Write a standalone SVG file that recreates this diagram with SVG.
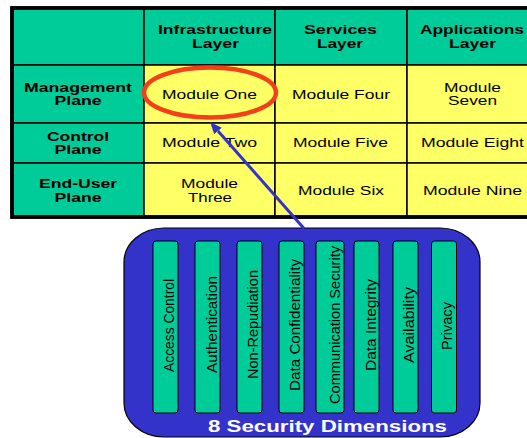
<svg xmlns="http://www.w3.org/2000/svg" width="527" height="438" viewBox="0 0 527 438">
<style>
.teal{fill:#00CC99;stroke:#000;stroke-width:1.5}
.yel{fill:#FFFF66;stroke:#000;stroke-width:1.5}
.hd{font-family:"Liberation Sans",Arial,sans-serif;font-weight:bold;font-size:12px;fill:#000;text-anchor:middle}
.bd{font-family:"Liberation Sans",Arial,sans-serif;font-size:12px;fill:#000;text-anchor:middle}
.bar{fill:#00CC99;stroke:#000;stroke-width:1}
.vt{font-family:"Liberation Sans",Arial,sans-serif;font-size:15px;fill:#000;text-anchor:middle}
</style>
<defs>
<marker id="ah" viewBox="0 0 12 10" refX="0" refY="5" markerWidth="12" markerHeight="10" markerUnits="userSpaceOnUse" orient="auto">
<path d="M0,0 L12,5 L0,10 z" fill="#3333CC"/>
</marker>
</defs>
<rect width="527" height="438" fill="#fff"/>
<g id="table">
<rect x="12" y="8" width="520" height="209" fill="#00CC99" stroke="#000" stroke-width="3.5"/>
<g id="header-row">
<rect class="teal" x="13" y="9" width="131" height="56"/>
<rect class="teal" x="144" y="9" width="131" height="56"/>
<rect class="teal" x="275" y="9" width="132" height="56"/>
<rect class="teal" x="407" y="9" width="130" height="56"/>
<text class="hd" x="215" y="34" textLength="114" lengthAdjust="spacingAndGlyphs">Infrastructure</text>
<text class="hd" x="215.5" y="48" textLength="47" lengthAdjust="spacingAndGlyphs">Layer</text>
<text class="hd" x="340.5" y="34" textLength="73" lengthAdjust="spacingAndGlyphs">Services</text>
<text class="hd" x="340" y="48" textLength="46" lengthAdjust="spacingAndGlyphs">Layer</text>
<text class="hd" x="472" y="34" textLength="104" lengthAdjust="spacingAndGlyphs">Applications</text>
<text class="hd" x="472.5" y="48" textLength="47" lengthAdjust="spacingAndGlyphs">Layer</text>
</g>
<g id="row-management">
<rect class="teal" x="13" y="65" width="131" height="58"/>
<rect class="yel" x="144" y="65" width="131" height="58"/>
<rect class="yel" x="275" y="65" width="132" height="58"/>
<rect class="yel" x="407" y="65" width="130" height="58"/>
<text class="hd" x="78" y="92" textLength="108" lengthAdjust="spacingAndGlyphs">Management</text>
<text class="hd" x="78" y="105" textLength="47" lengthAdjust="spacingAndGlyphs">Plane</text>
<text class="bd" x="209.5" y="98.5" textLength="95" lengthAdjust="spacingAndGlyphs">Module One</text>
<text class="bd" x="341" y="98.5" textLength="98" lengthAdjust="spacingAndGlyphs">Module Four</text>
<text class="bd" x="472.5" y="92" textLength="57" lengthAdjust="spacingAndGlyphs">Module</text>
<text class="bd" x="472.5" y="105" textLength="49" lengthAdjust="spacingAndGlyphs">Seven</text>
</g>
<g id="row-control">
<rect class="teal" x="13" y="123" width="131" height="40"/>
<rect class="yel" x="144" y="123" width="131" height="40"/>
<rect class="yel" x="275" y="123" width="132" height="40"/>
<rect class="yel" x="407" y="123" width="130" height="40"/>
<text class="hd" x="78" y="141" textLength="62" lengthAdjust="spacingAndGlyphs">Control</text>
<text class="hd" x="78" y="154" textLength="47" lengthAdjust="spacingAndGlyphs">Plane</text>
<text class="bd" x="209.5" y="147" textLength="95" lengthAdjust="spacingAndGlyphs">Module Two</text>
<text class="bd" x="340.5" y="147" textLength="95" lengthAdjust="spacingAndGlyphs">Module Five</text>
<text class="bd" x="472.5" y="147" textLength="103" lengthAdjust="spacingAndGlyphs">Module Eight</text>
</g>
<g id="row-enduser">
<rect class="teal" x="13" y="163" width="131" height="53"/>
<rect class="yel" x="144" y="163" width="131" height="53"/>
<rect class="yel" x="275" y="163" width="132" height="53"/>
<rect class="yel" x="407" y="163" width="130" height="53"/>
<text class="hd" x="78" y="188" textLength="78" lengthAdjust="spacingAndGlyphs">End-User</text>
<text class="hd" x="78" y="202" textLength="47" lengthAdjust="spacingAndGlyphs">Plane</text>
<text class="bd" x="209.5" y="188" textLength="57" lengthAdjust="spacingAndGlyphs">Module</text>
<text class="bd" x="210" y="202" textLength="44" lengthAdjust="spacingAndGlyphs">Three</text>
<text class="bd" x="341" y="195" textLength="86" lengthAdjust="spacingAndGlyphs">Module Six</text>
<text class="bd" x="472.5" y="195" textLength="99" lengthAdjust="spacingAndGlyphs">Module Nine</text>
</g>
<rect x="12" y="8" width="520" height="209" fill="none" stroke="#000" stroke-width="3.5"/>
</g>
<g id="highlight">
<ellipse cx="210" cy="92.5" rx="66" ry="25" fill="none" stroke="#F2401A" stroke-width="4.5"/>
</g>
<g id="security-dimensions">
<rect x="124" y="228" width="356" height="209" rx="40" ry="34" fill="#3333CC" stroke="#000" stroke-width="1.2"/>
<rect class="bar" x="153" y="241" width="25" height="172" rx="3"/>
<rect class="bar" x="195" y="241" width="25" height="172" rx="3"/>
<rect class="bar" x="237" y="241" width="25" height="172" rx="3"/>
<rect class="bar" x="279" y="241" width="25" height="172" rx="3"/>
<rect class="bar" x="316" y="241" width="28" height="172" rx="3"/>
<rect class="bar" x="354" y="241" width="25" height="172" rx="3"/>
<rect class="bar" x="393" y="241" width="25" height="172" rx="3"/>
<rect class="bar" x="431.5" y="241" width="25" height="172" rx="3"/>
<text class="vt" transform="translate(169,325.5) rotate(-90)" y="5" textLength="93" lengthAdjust="spacingAndGlyphs">Access Control</text>
<text class="vt" transform="translate(211.5,324.5) rotate(-90)" y="5" textLength="97" lengthAdjust="spacingAndGlyphs">Authentication</text>
<text class="vt" transform="translate(253,324.5) rotate(-90)" y="5" textLength="109" lengthAdjust="spacingAndGlyphs">Non-Repudiation</text>
<text class="vt" transform="translate(295,325) rotate(-90)" y="5" textLength="132" lengthAdjust="spacingAndGlyphs">Data Confidentiality</text>
<text class="vt" transform="translate(334.5,325) rotate(-90)" y="5" textLength="158" lengthAdjust="spacingAndGlyphs">Communication Security</text>
<text class="vt" transform="translate(370.5,325) rotate(-90)" y="5" textLength="92" lengthAdjust="spacingAndGlyphs">Data Integrity</text>
<text class="vt" transform="translate(408.5,325) rotate(-90)" y="5" textLength="76" lengthAdjust="spacingAndGlyphs">Availability</text>
<text class="vt" transform="translate(447,326) rotate(-90)" y="5" textLength="48" lengthAdjust="spacingAndGlyphs">Privacy</text>
<text x="327.5" y="432" font-family="'Liberation Sans',Arial,sans-serif" font-weight="bold" font-size="16" fill="#fff" text-anchor="middle" textLength="239" lengthAdjust="spacingAndGlyphs">8 Security Dimensions</text>
</g>
<g id="connectors">
<line x1="304" y1="228.5" x2="218" y2="131" stroke="#3333CC" stroke-width="3" marker-end="url(#ah)"/>
</g>
</svg>
